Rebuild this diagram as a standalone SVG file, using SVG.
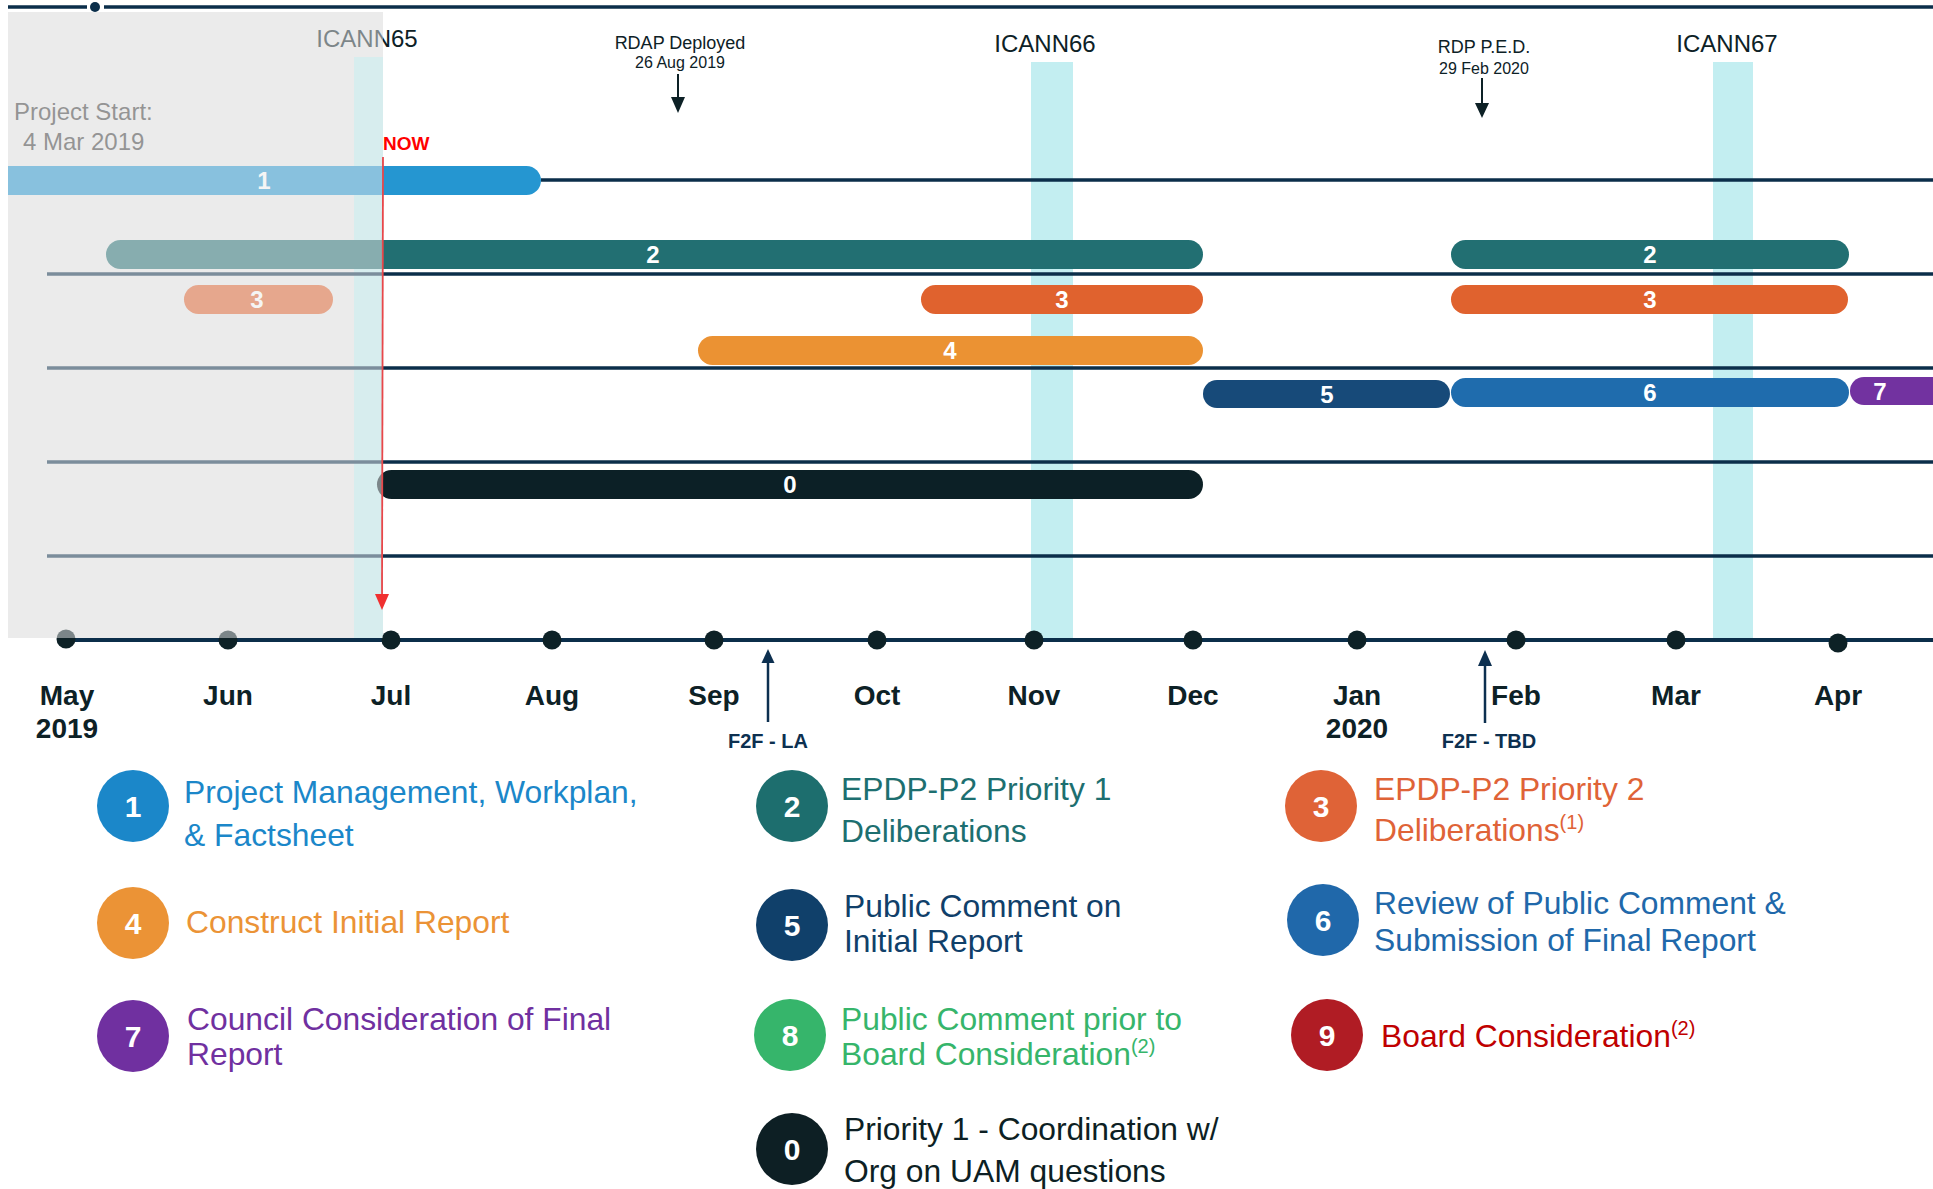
<svg xmlns="http://www.w3.org/2000/svg" width="1933" height="1189" viewBox="0 0 1933 1189">
<style>
text{font-family:"Liberation Sans",Arial,Helvetica,sans-serif}
.row{stroke:#0b2e4a;stroke-width:3.5;fill:none}
.band{fill:#c3eef1}
.bl{fill:#fff;font-weight:bold;font-size:24px;text-anchor:middle}
.mon{fill:#0d2126;font-weight:bold;font-size:28px;text-anchor:middle}
.dot{fill:#0d2126}
.ic{fill:#0d2126;font-size:24px;text-anchor:middle}
.ms{fill:#0d2126;text-anchor:middle}
.f2f{fill:#0d3050;font-weight:bold;font-size:20px;text-anchor:middle}
.cn{fill:#fff;font-weight:bold;font-size:30px;text-anchor:middle}
.lg{font-size:31.8px}
.sup{font-size:20px}
</style>
<rect x="0" y="0" width="1933" height="1189" fill="#fff"/>
<!-- past region background -->
<rect x="8" y="12" width="375" height="626" fill="#ebebeb"/>
<!-- ICANN bands -->
<g id="icann65"><rect class="band" x="354" y="57" width="29" height="583"/><text class="ic" x="367" y="47">ICANN65</text></g>
<g id="icann66"><rect class="band" x="1031" y="62" width="42" height="578"/><text class="ic" x="1045" y="52">ICANN66</text></g>
<g id="icann67"><rect class="band" x="1713" y="62" width="40" height="578"/><text class="ic" x="1727" y="52">ICANN67</text></g>
<!-- top line -->
<g id="topline">
<line x1="8" y1="7" x2="87" y2="7" class="row"/>
<line x1="104" y1="7" x2="1933" y2="7" class="row"/>
<circle cx="95" cy="7" r="5" fill="#0b2e4a"/>
</g>
<!-- row lines -->
<g id="rows">
<line x1="541" y1="180" x2="1933" y2="180" class="row"/>
<line x1="47" y1="274" x2="1933" y2="274" class="row"/>
<line x1="47" y1="368" x2="1933" y2="368" class="row"/>
<line x1="47" y1="462" x2="1933" y2="462" class="row"/>
<line x1="47" y1="556" x2="1933" y2="556" class="row"/>
</g>
<!-- project start -->
<g id="project-start" fill="#3c3c3c" font-size="24">
<text x="14" y="120">Project Start:</text>
<text x="23" y="150">4 Mar 2019</text>
</g>
<!-- bars -->
<g id="bar-1"><path d="M8,166 H526.5 A14.5,14.5 0 0 1 526.5,195 H8 Z" fill="#2596d1"/><text class="bl" x="264" y="189">1</text></g>
<g id="bar-2a"><rect x="106" y="240" width="1097" height="29" rx="14.5" fill="#226f72"/><text class="bl" x="653" y="263">2</text></g>
<g id="bar-2b"><rect x="1451" y="240" width="398" height="29" rx="14.5" fill="#226f72"/><text class="bl" x="1650" y="263">2</text></g>
<g id="bar-3a"><rect x="184" y="285" width="149" height="29" rx="14.5" fill="#e0622e"/><text class="bl" x="257" y="308">3</text></g>
<g id="bar-3b"><rect x="921" y="285" width="282" height="29" rx="14.5" fill="#e0622e"/><text class="bl" x="1062" y="308">3</text></g>
<g id="bar-3c"><rect x="1451" y="285" width="397" height="29" rx="14.5" fill="#e0622e"/><text class="bl" x="1650" y="308">3</text></g>
<g id="bar-4"><rect x="698" y="336" width="505" height="29" rx="14.5" fill="#eb9233"/><text class="bl" x="950" y="359">4</text></g>
<g id="bar-5"><rect x="1203" y="380" width="247" height="28" rx="14" fill="#174a79"/><text class="bl" x="1327" y="403">5</text></g>
<g id="bar-6"><rect x="1451" y="378" width="398" height="29" rx="14.5" fill="#1f6cad"/><text class="bl" x="1650" y="401">6</text></g>
<g id="bar-7"><rect x="1850" y="377" width="120" height="28" rx="14" fill="#7232a0"/><text class="bl" x="1880" y="400">7</text></g>
<g id="bar-0"><rect x="377" y="470" width="826" height="29" rx="14.5" fill="#0c2026"/><text class="bl" x="790" y="493">0</text></g>
<!-- axis -->
<g id="axis">
<line x1="58" y1="640" x2="1933" y2="640" stroke="#0b2e4a" stroke-width="4"/>
<circle class="dot" cx="66" cy="639" r="9.5"/>
<circle class="dot" cx="228" cy="640" r="9.5"/>
<circle class="dot" cx="391" cy="640" r="9.5"/>
<circle class="dot" cx="552" cy="640" r="9.5"/>
<circle class="dot" cx="714" cy="640" r="9.5"/>
<circle class="dot" cx="877" cy="640" r="9.5"/>
<circle class="dot" cx="1034" cy="640" r="9.5"/>
<circle class="dot" cx="1193" cy="640" r="9.5"/>
<circle class="dot" cx="1357" cy="640" r="9.5"/>
<circle class="dot" cx="1516" cy="640" r="9.5"/>
<circle class="dot" cx="1676" cy="640" r="9.5"/>
<circle class="dot" cx="1838" cy="643" r="9.5"/>
</g>
<!-- past overlay -->
<rect id="past-overlay" x="8" y="12" width="375" height="626" fill="#ebebeb" fill-opacity="0.5"/>
<!-- month labels -->
<g id="months">
<text class="mon" x="67" y="705">May</text><text class="mon" x="67" y="738">2019</text>
<text class="mon" x="228" y="705">Jun</text>
<text class="mon" x="391" y="705">Jul</text>
<text class="mon" x="552" y="705">Aug</text>
<text class="mon" x="714" y="705">Sep</text>
<text class="mon" x="877" y="705">Oct</text>
<text class="mon" x="1034" y="705">Nov</text>
<text class="mon" x="1193" y="705">Dec</text>
<text class="mon" x="1357" y="705">Jan</text><text class="mon" x="1357" y="738">2020</text>
<text class="mon" x="1516" y="705">Feb</text>
<text class="mon" x="1676" y="705">Mar</text>
<text class="mon" x="1838" y="705">Apr</text>
</g>
<!-- milestones -->
<g id="rdap"><text class="ms" x="680" y="49" font-size="18">RDAP Deployed</text><text class="ms" x="680" y="68" font-size="16">26 Aug 2019</text></g>
<g id="rdp"><text class="ms" x="1484" y="53" font-size="18">RDP P.E.D.</text><text class="ms" x="1484" y="74" font-size="16">29 Feb 2020</text></g>
<g id="f2f-la"><text class="f2f" x="768" y="748">F2F - LA</text></g>
<g id="f2f-tbd"><text class="f2f" x="1489" y="748">F2F - TBD</text></g>
<g id="now"><text x="383" y="150" fill="#ff0000" font-weight="bold" font-size="19">NOW</text></g>
<!-- connectors -->
<g id="connectors">
<line x1="678" y1="74" x2="678" y2="99" stroke="#0d2126" stroke-width="2"/>
<polygon points="671,97 685,97 678,113" fill="#0d2126"/>
<line x1="1482" y1="78" x2="1482" y2="104" stroke="#0d2126" stroke-width="2"/>
<polygon points="1475,103 1489,103 1482,118" fill="#0d2126"/>
<line x1="768" y1="662" x2="768" y2="722" stroke="#0d3050" stroke-width="2.5"/>
<polygon points="761.5,663 774.5,663 768,649" fill="#0d3050"/>
<line x1="1485" y1="664" x2="1485" y2="723" stroke="#0d3050" stroke-width="2.5"/>
<polygon points="1478,666 1492,666 1485,650" fill="#0d3050"/>
<line x1="383" y1="157" x2="382" y2="598" stroke="#e8474a" stroke-width="1.8"/>
<polygon points="375,594 389,594 382,610" fill="#f03030"/>
</g>
<!-- legend -->
<g id="legend-1"><circle cx="133" cy="806" r="36" fill="#1b87c9"/><text class="cn" x="133" y="817">1</text><text class="lg" fill="#1b87c9"><tspan x="184" y="803">Project Management, Workplan,</tspan><tspan x="184" y="846">&amp; Factsheet</tspan></text></g>
<g id="legend-4"><circle cx="133" cy="923" r="36" fill="#eb9336"/><text class="cn" x="133" y="934">4</text><text class="lg" fill="#eb9336" x="186" y="933">Construct Initial Report</text></g>
<g id="legend-7"><circle cx="133" cy="1036" r="36" fill="#7030a0"/><text class="cn" x="133" y="1047">7</text><text class="lg" fill="#7030a0"><tspan x="187" y="1030">Council Consideration of Final</tspan><tspan x="187" y="1065">Report</tspan></text></g>
<g id="legend-2"><circle cx="792" cy="806" r="36" fill="#1d6e6e"/><text class="cn" x="792" y="817">2</text><text class="lg" fill="#1d6f70"><tspan x="841" y="800">EPDP-P2 Priority 1</tspan><tspan x="841" y="842">Deliberations</tspan></text></g>
<g id="legend-5"><circle cx="792" cy="925" r="36" fill="#10406a"/><text class="cn" x="792" y="936">5</text><text class="lg" fill="#10406a"><tspan x="844" y="917">Public Comment on</tspan><tspan x="844" y="952">Initial Report</tspan></text></g>
<g id="legend-8"><circle cx="790" cy="1035" r="36" fill="#36b56b"/><text class="cn" x="790" y="1046">8</text><text class="lg" fill="#36b56b"><tspan x="841" y="1030">Public Comment prior to</tspan><tspan x="841" y="1065">Board Consideration</tspan><tspan class="sup" dy="-12">(2)</tspan></text></g>
<g id="legend-0"><circle cx="792" cy="1149" r="36" fill="#0d1f24"/><text class="cn" x="792" y="1160">0</text><text class="lg" fill="#0d1f24"><tspan x="844" y="1140">Priority 1 - Coordination w/</tspan><tspan x="844" y="1182">Org on UAM questions</tspan></text></g>
<g id="legend-3"><circle cx="1321" cy="806" r="36" fill="#df6337"/><text class="cn" x="1321" y="817">3</text><text class="lg" fill="#df6337"><tspan x="1374" y="800">EPDP-P2 Priority 2</tspan><tspan x="1374" y="841">Deliberations</tspan><tspan class="sup" dy="-12">(1)</tspan></text></g>
<g id="legend-6"><circle cx="1323" cy="920" r="36" fill="#2068aa"/><text class="cn" x="1323" y="931">6</text><text class="lg" fill="#2068aa"><tspan x="1374" y="914">Review of Public Comment &amp;</tspan><tspan x="1374" y="951">Submission of Final Report</tspan></text></g>
<g id="legend-9"><circle cx="1327" cy="1035" r="36" fill="#b01c24"/><text class="cn" x="1327" y="1046">9</text><text class="lg" fill="#c00000" x="1381" y="1047">Board Consideration<tspan class="sup" dy="-12">(2)</tspan></text></g>
</svg>
